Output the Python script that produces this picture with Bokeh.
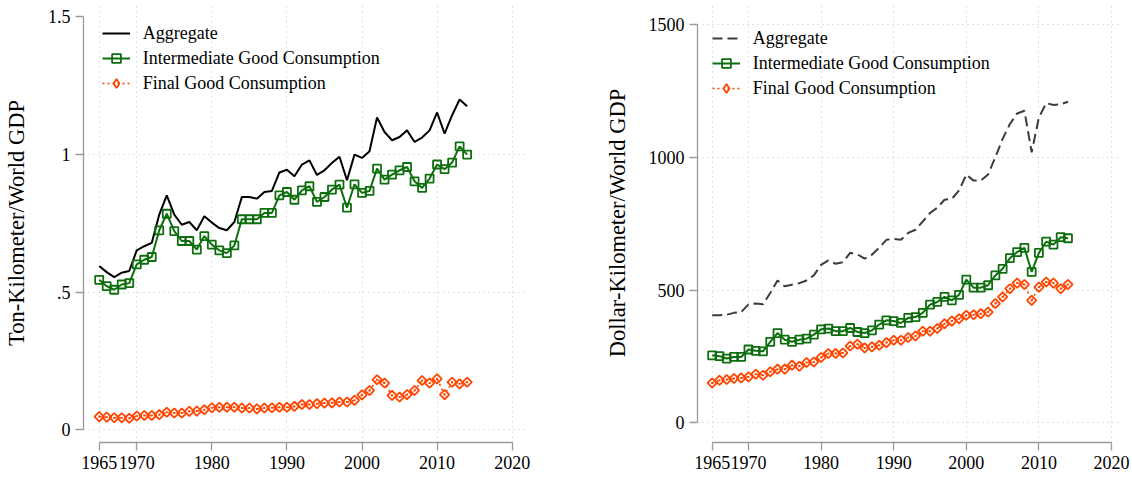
from bokeh.plotting import figure
from bokeh.layouts import row
from bokeh.models import FixedTicker, Legend, LegendItem, Range1d
from bokeh.embed import file_html
from bokeh.resources import INLINE
import numpy as np

years = list(range(1965, 2015))
x_ticks = [1965, 1970, 1980, 1990, 2000, 2010, 2020]

# Left panel: Ton-Kilometer / World GDP
ton_agg = [0.595, 0.573, 0.555, 0.571, 0.577, 0.652, 0.667, 0.679, 0.782, 0.852,
           0.782, 0.745, 0.755, 0.725, 0.776, 0.753, 0.733, 0.725, 0.755, 0.846,
           0.846, 0.840, 0.864, 0.868, 0.935, 0.945, 0.921, 0.964, 0.979, 0.926,
           0.943, 0.970, 0.992, 0.907, 1.000, 0.988, 1.012, 1.135, 1.082, 1.052,
           1.064, 1.088, 1.046, 1.062, 1.088, 1.153, 1.076, 1.143, 1.200, 1.176]
ton_inter = [0.545, 0.522, 0.509, 0.528, 0.533, 0.601, 0.618, 0.628, 0.725, 0.785,
             0.722, 0.686, 0.686, 0.655, 0.704, 0.673, 0.652, 0.642, 0.670, 0.765,
             0.765, 0.765, 0.788, 0.788, 0.852, 0.864, 0.836, 0.870, 0.885, 0.828,
             0.846, 0.873, 0.891, 0.807, 0.892, 0.861, 0.868, 0.949, 0.909, 0.927,
             0.943, 0.955, 0.903, 0.879, 0.913, 0.964, 0.947, 0.971, 1.030, 1.000]
ton_final = [0.048, 0.046, 0.044, 0.044, 0.042, 0.050, 0.052, 0.052, 0.055, 0.064,
             0.061, 0.061, 0.067, 0.068, 0.073, 0.080, 0.082, 0.082, 0.082, 0.079,
             0.079, 0.076, 0.079, 0.080, 0.082, 0.082, 0.085, 0.092, 0.092, 0.095,
             0.097, 0.098, 0.101, 0.101, 0.107, 0.127, 0.143, 0.182, 0.170, 0.125,
             0.119, 0.128, 0.143, 0.179, 0.170, 0.185, 0.128, 0.173, 0.167, 0.173]
ton_y_ticks = [0, 0.5, 1, 1.5]
ton_y_labels = ["0", ".5", "1", "1.5"]
ton_y_grid = [0, 0.5, 1]

# Right panel: Dollar-Kilometer / World GDP
dol_agg = [405, 405, 407, 414, 417, 446, 449, 446, 489, 536,
           514, 520, 526, 536, 555, 595, 612, 599, 605, 640,
           634, 618, 633, 659, 689, 693, 689, 715, 727, 758,
           790, 810, 840, 843, 875, 935, 912, 912, 935, 1000,
           1069, 1125, 1165, 1175, 1019, 1150, 1204, 1197, 1200, 1209]
dol_inter = [254, 251, 242, 248, 248, 276, 271, 269, 305, 338,
             313, 305, 313, 317, 332, 352, 355, 345, 345, 357,
             342, 338, 348, 370, 386, 383, 376, 395, 398, 414,
             445, 455, 474, 461, 482, 539, 509, 509, 518, 555,
             580, 620, 643, 659, 568, 640, 682, 671, 699, 695]
dol_final = [150, 160, 163, 167, 169, 173, 183, 179, 192, 202,
             202, 217, 213, 227, 229, 246, 261, 261, 263, 289,
             296, 282, 286, 292, 302, 311, 311, 321, 327, 345,
             345, 355, 373, 383, 392, 405, 407, 411, 417, 449,
             474, 505, 526, 521, 461, 511, 530, 526, 505, 521]
dol_y_ticks = [0, 500, 1000, 1500]
dol_y_grid = [0, 500, 1000, 1500]

labels = ["Aggregate", "Intermediate Good Consumption", "Final Good Consumption"]

FONT = "Liberation Serif"
GREEN = "#0d6e0d"
ORANGE = "#ff4500"
AXIS_COL = "#9a9a9a"
GRID_COL = "#c4c4c4"


def make_panel(width, height, borders, xr, yr, yticks, ylabels, ygrid, ylabel,
               agg, inter, final, agg_color, agg_dash, legend_loc):
    bl, br, bt, bb = borders
    p = figure(width=width, height=height, output_backend="svg",
               toolbar_location=None, x_range=Range1d(*xr), y_range=Range1d(*yr),
               min_border_left=bl, min_border_right=br,
               min_border_top=bt, min_border_bottom=bb)
    p.outline_line_color = None
    p.background_fill_color = "white"
    p.border_fill_color = "white"

    for ax in (p.xaxis[0], p.yaxis[0]):
        ax.axis_line_color = AXIS_COL
        ax.axis_line_width = 1.3
        ax.major_tick_line_color = AXIS_COL
        ax.major_tick_line_width = 1.3
        ax.major_tick_in = 0
        ax.major_tick_out = 8
        ax.minor_tick_line_color = None
        ax.major_label_text_font = FONT
        ax.major_label_text_font_size = "18px"
        ax.major_label_text_color = "black"
        ax.major_label_standoff = 5
        ax.axis_label_text_font = FONT
        ax.axis_label_text_font_style = "normal"
        ax.axis_label_text_font_size = "22.5px"
        ax.axis_label_text_color = "black"

    p.xaxis.ticker = FixedTicker(ticks=x_ticks)
    p.xaxis.bounds = (x_ticks[0], x_ticks[-1])
    p.yaxis.ticker = FixedTicker(ticks=yticks)
    p.yaxis.bounds = (yticks[0], yticks[-1])
    if ylabels is not None:
        p.yaxis.major_label_overrides = {t: l for t, l in zip(yticks, ylabels)}
    p.yaxis.axis_label = ylabel
    p.yaxis.axis_label_standoff = 16

    p.ygrid[0].ticker = FixedTicker(ticks=ygrid)
    for g in (p.xgrid[0], p.ygrid[0]):
        g.grid_line_color = GRID_COL
        g.grid_line_dash = "1 4"
        g.grid_line_width = 1

    r_agg = p.line(years, agg, line_color=agg_color, line_width=2,
                   line_dash=agg_dash)
    r_int_l = p.line(years, inter, line_color=GREEN, line_width=2)
    r_int_m = p.scatter(years, inter, marker="square", size=8,
                        line_color=GREEN, line_width=1.8, fill_alpha=0)
    r_fin_l = p.line(years, final, line_color=ORANGE, line_width=1.6,
                     line_dash="2 3")
    p.scatter(years, final, marker="square", size=6.6,
              angle=np.pi / 4, line_color=ORANGE, line_width=1.8,
              fill_alpha=0)
    # tiny diamonds at the same points: they give the legend its diamond key
    r_fin_key = p.scatter(years, final, marker="diamond", size=1,
                          line_color=ORANGE, line_width=1.8, fill_alpha=0)

    legend = Legend(items=[
        LegendItem(label=labels[0], renderers=[r_agg]),
        LegendItem(label=labels[1], renderers=[r_int_l, r_int_m]),
        LegendItem(label=labels[2], renderers=[r_fin_l, r_fin_key]),
    ], location=legend_loc)
    legend.margin = 0
    legend.padding = 0
    legend.spacing = 3
    legend.label_height = 22
    legend.glyph_height = 22
    legend.glyph_width = 28
    legend.label_standoff = 13
    legend.label_text_font = FONT
    legend.label_text_font_size = "18px"
    legend.label_text_color = "black"
    legend.background_fill_alpha = 0
    legend.border_line_color = None
    p.add_layout(legend)
    return p


p1 = make_panel(600, 478, (83, 73, 3, 36), (1962.91, 2022.04), (-0.0461, 1.5490),
                ton_y_ticks, ton_y_labels, ton_y_grid, "Ton-Kilometer/World GDP",
                ton_agg, ton_inter, ton_final, "black", "solid", (18.7, 348))
p2 = make_panel(532, 478, (97, 10, 3, 36), (1962.98, 2021.51), (-74.2, 1579.0),
                dol_y_ticks, None, dol_y_grid, "Dollar-Kilometer/World GDP",
                dol_agg, dol_inter, dol_final, "#3c3c3c", "10 5", (14.7, 343))

layout = row(p1, p2)
open("out.html", "w").write(file_html(layout, INLINE))
